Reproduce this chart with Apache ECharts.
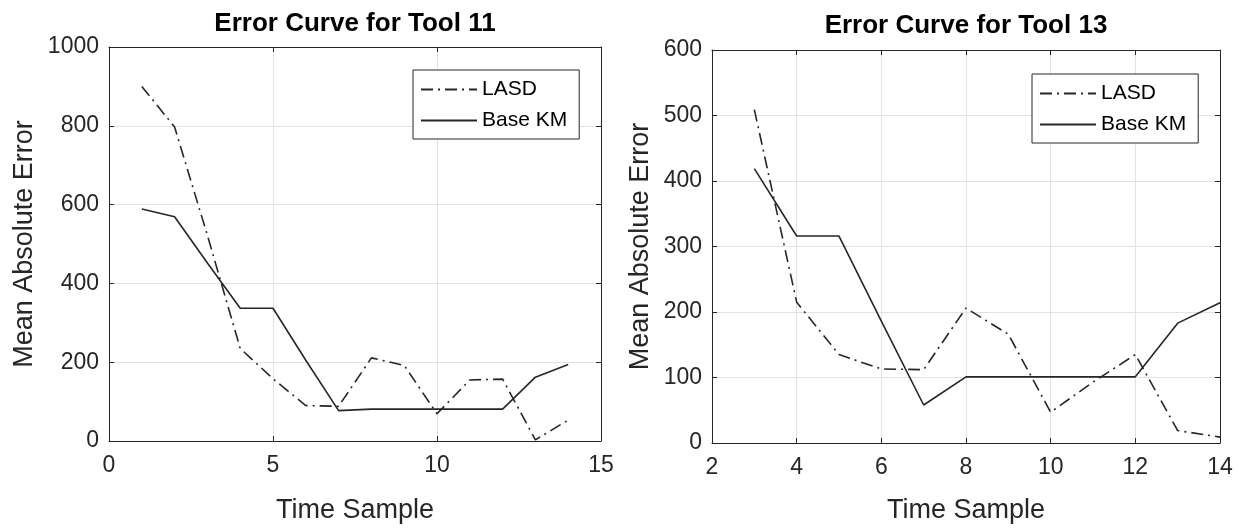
<!DOCTYPE html>
<html><head><meta charset="utf-8">
<script src="https://cdn.jsdelivr.net/npm/echarts@6/dist/echarts.min.js"></script>
<style>html,body{margin:0;padding:0;background:#fff}#c{width:1244px;height:529px}</style>
</head><body><div id="c"></div>
<script>
// ---- data ----
const samples11 = [1, 2, 3, 4, 5, 6, 7, 8, 9, 10, 11, 12, 13, 14];
const lasd11    = [900, 797, 522, 235, 158, 90, 88, 211, 192, 69, 155, 157, 3, 53];
const baseKM11  = [589, 569, 452, 337, 337, 205, 77, 81, 81, 81, 81, 81, 162, 194];

const samples13 = [3, 4, 5, 6, 7, 8, 9, 10, 11, 12, 13, 14];
const lasd13    = [509, 215, 135, 113, 112, 206, 166, 47, 93, 135, 19, 9];
const baseKM13  = [419, 316, 316, 186, 58, 101, 101, 101, 101, 101, 183, 214];

const titles = ['Error Curve for Tool 11', 'Error Curve for Tool 13'];
const seriesNames = ['LASD', 'Base KM'];
const xLabel = 'Time Sample';
const yLabel = 'Mean Absolute Error';
const xRange11 = [0, 15, 5];
const yRange11 = [0, 1000, 200];
const xRange13 = [2, 14, 2];
const yRange13 = [0, 600, 100];

// ---- styles ----
const FONT = '"Liberation Sans", Arial, Helvetica, sans-serif';
const AX = '#262626';
const GRIDC = '#e2e2e2';
const LINE = '#262626';
const DASHDOT = [12, 5, 2, 5];

function pairs(xs, ys) { return xs.map((x, i) => [x, ys[i]]); }
const plain = v => String(v);

function xAxes(gi, r, nameGap) {
  const common = {
    type: 'value', gridIndex: gi, min: r[0], max: r[1], interval: r[2],
    axisLine: { show: true, onZero: false, lineStyle: { color: AX, width: 1 } },
    axisTick: { show: true, inside: true, length: 5, lineStyle: { color: AX } }
  };
  return [
    Object.assign({}, common, {
      position: 'bottom',
      axisLabel: { margin: 13, fontSize: 23, color: AX, fontFamily: FONT, formatter: plain },
      splitLine: { show: true, lineStyle: { color: GRIDC, width: 1 } },
      name: xLabel, nameLocation: 'middle', nameGap: nameGap,
      nameTextStyle: { fontSize: 27, color: AX, fontFamily: FONT }
    }),
    Object.assign({}, common, {
      position: 'top', axisLabel: { show: false }, splitLine: { show: false }
    })
  ];
}
function yAxes(gi, r, nameGap) {
  const common = {
    type: 'value', gridIndex: gi, min: r[0], max: r[1], interval: r[2],
    axisLine: { show: true, onZero: false, lineStyle: { color: AX, width: 1 } },
    axisTick: { show: true, inside: true, length: 5, lineStyle: { color: AX } }
  };
  return [
    Object.assign({}, common, {
      position: 'left',
      axisLabel: { margin: 10, fontSize: 23, color: AX, fontFamily: FONT, formatter: plain },
      splitLine: { show: true, lineStyle: { color: GRIDC, width: 1 } },
      name: yLabel, nameLocation: 'middle', nameGap: nameGap,
      nameTextStyle: { fontSize: 27, color: AX, fontFamily: FONT }
    }),
    Object.assign({}, common, {
      position: 'right', axisLabel: { show: false }, splitLine: { show: false }
    })
  ];
}
function lineSeries(name, xi, yi, data, dash) {
  return {
    name: name, type: 'line', xAxisIndex: xi, yAxisIndex: yi, data: data,
    symbol: 'none', showSymbol: false, silent: true,
    lineStyle: { color: LINE, width: 1.6, type: dash ? DASHDOT : 'solid' },
    itemStyle: { color: LINE }
  };
}
function legendAt(left, top) {
  return {
    data: seriesNames, orient: 'vertical', left: left, top: top,
    itemWidth: 56, itemHeight: 20, itemGap: 10,
    padding: [9, 12, 8, 7],
    borderColor: AX, borderWidth: 1, backgroundColor: '#fff',
    itemStyle: { opacity: 0 },
    textStyle: { fontSize: 21, color: '#000', fontFamily: FONT },
    selectedMode: false
  };
}

const chart = echarts.init(document.getElementById('c'), null, { renderer: 'canvas' });
chart.setOption({
  animation: false,
  backgroundColor: '#fff',
  title: [
    { text: titles[0], left: 355, top: 11, textAlign: 'center', padding: 0,
      textStyle: { fontSize: 26, fontWeight: 'bold', color: '#000', fontFamily: FONT } },
    { text: titles[1], left: 966, top: 13, textAlign: 'center', padding: 0,
      textStyle: { fontSize: 26, fontWeight: 'bold', color: '#000', fontFamily: FONT } }
  ],
  grid: [
    { left: 109, top: 47, width: 492, height: 399, containLabel: false },
    { left: 712, top: 50, width: 508, height: 400, containLabel: false }
  ],
  xAxis: xAxes(0, xRange11, 56).concat(xAxes(1, xRange13, 54)),
  yAxis: yAxes(0, yRange11, 71).concat(yAxes(1, yRange13, 58)),
  legend: [legendAt(413, 70), legendAt(1032, 74)],
  series: [
    lineSeries(seriesNames[0], 0, 0, pairs(samples11, lasd11), true),
    lineSeries(seriesNames[1], 0, 0, pairs(samples11, baseKM11), false),
    lineSeries(seriesNames[0], 2, 2, pairs(samples13, lasd13), true),
    lineSeries(seriesNames[1], 2, 2, pairs(samples13, baseKM13), false)
  ]
});
</script>
</body></html>
